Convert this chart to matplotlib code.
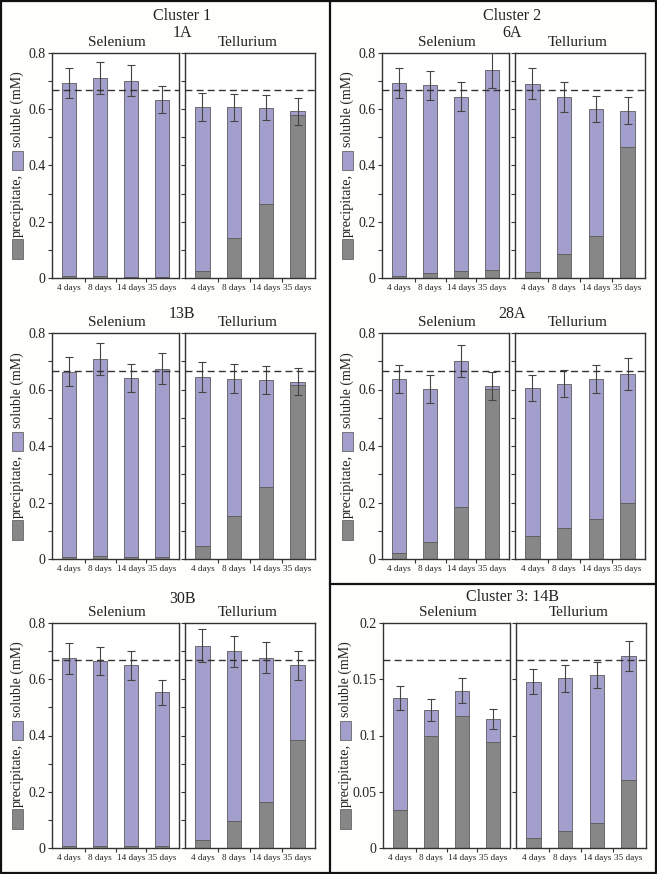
import matplotlib
matplotlib.use("Agg")
import matplotlib.pyplot as plt
from matplotlib.lines import Line2D
from matplotlib.patches import Rectangle
from matplotlib.ticker import MultipleLocator, FixedLocator, FuncFormatter

plt.rcParams['font.family'] = ['Liberation Serif', 'DejaVu Serif']

days = ["4 days", "8 days", "14 days", "35 days"]

# 1A
se_1A_prec = [0.006, 0.006, 0.005, 0.005]
se_1A_sol = [0.688, 0.706, 0.697, 0.629]
se_1A_err = [0.054, 0.057, 0.055, 0.049]
te_1A_prec = [0.025, 0.143, 0.262, 0.581]
te_1A_sol = [0.584, 0.464, 0.344, 0.012]
te_1A_err = [0.050, 0.048, 0.045, 0.048]
# 6A
se_6A_prec = [0.006, 0.017, 0.024, 0.027]
se_6A_sol = [0.686, 0.668, 0.621, 0.711]
se_6A_err = [0.053, 0.052, 0.052, 0.062]
te_6A_prec = [0.021, 0.084, 0.148, 0.465]
te_6A_sol = [0.670, 0.561, 0.454, 0.130]
te_6A_err = [0.056, 0.053, 0.046, 0.047]
# 13B
se_13B_prec = [0.008, 0.012, 0.008, 0.007]
se_13B_sol = [0.655, 0.696, 0.633, 0.667]
se_13B_err = [0.051, 0.057, 0.050, 0.054]
te_13B_prec = [0.047, 0.152, 0.255, 0.617]
te_13B_sol = [0.597, 0.486, 0.379, 0.011]
te_13B_err = [0.053, 0.052, 0.050, 0.047]
# 28A
se_28A_prec = [0.021, 0.060, 0.184, 0.602]
se_28A_sol = [0.616, 0.542, 0.518, 0.010]
se_28A_err = [0.050, 0.050, 0.057, 0.050]
te_28A_prec = [0.083, 0.111, 0.140, 0.197]
te_28A_sol = [0.522, 0.510, 0.497, 0.459]
te_28A_err = [0.046, 0.048, 0.051, 0.056]
# 30B
se_30B_prec = [0.007, 0.006, 0.007, 0.006]
se_30B_sol = [0.668, 0.660, 0.642, 0.547]
se_30B_err = [0.055, 0.050, 0.051, 0.044]
te_30B_prec = [0.028, 0.096, 0.163, 0.383]
te_30B_sol = [0.692, 0.604, 0.514, 0.266]
te_30B_err = [0.058, 0.055, 0.054, 0.052]
# 14B
se_14B_prec = [0.0341, 0.0996, 0.1173, 0.0939]
se_14B_sol = [0.0992, 0.0231, 0.0226, 0.0208]
se_14B_err = [0.0104, 0.0100, 0.0110, 0.0092]
te_14B_prec = [0.0092, 0.0151, 0.0219, 0.0604]
te_14B_sol = [0.1387, 0.1357, 0.1319, 0.1103]
te_14B_err = [0.0112, 0.0119, 0.0118, 0.0136]

ref_main = 0.667
ref_14B = 0.1667

W, H = 657, 874
fig = plt.figure(figsize=(W / 100, H / 100), dpi=100)
fig.patch.set_facecolor('#fefefc')

C_SOL = '#a39fcc'
C_PREC = '#878787'
C_EDGE = '#5a5a5a'


def fx(px):
    return px / W


def fy(py):
    return 1 - py / H


def make_ax(left, top, width, bottom):
    return fig.add_axes([fx(left), fy(bottom), width / W, (bottom - top) / H])


def draw(ax, prec, sol, err, ymax, major, minor, ref, show_labels):
    x = range(len(days))
    ax.bar(x, prec, width=0.45, color=C_PREC, edgecolor=C_EDGE, linewidth=0.6, zorder=2)
    tot = [p + s for p, s in zip(prec, sol)]
    ax.bar(x, sol, bottom=prec, width=0.45, color=C_SOL, edgecolor=C_EDGE, linewidth=0.6, zorder=2)
    ax.errorbar(x, tot, yerr=err, fmt='none', ecolor='#444444', elinewidth=0.8,
                capsize=3, capthick=0.8, zorder=3)
    ax.axhline(ref, color='#333333', linestyle=(0, (5, 3)), linewidth=1.0, zorder=4)
    ax.set_xlim(-0.55, 3.55)
    ax.set_ylim(0, ymax)
    ax.yaxis.set_major_locator(MultipleLocator(major))
    if minor:
        ax.yaxis.set_minor_locator(MultipleLocator(minor))
    ax.tick_params(axis='y', which='both', direction='out', length=3, width=0.8,
                   colors='#333333', labelsize=10, labelcolor='#222222', pad=1.5)
    if not show_labels:
        ax.tick_params(axis='y', labelleft=False)
    else:
        ax.yaxis.set_major_formatter(FuncFormatter(lambda v, p: ('%g' % round(v, 3))))
    ax.set_xticks(list(x))
    ax.set_xticklabels(days, fontsize=6.6, color='#222222')
    ax.xaxis.set_minor_locator(FixedLocator([0.5, 1.5, 2.5]))
    ax.tick_params(axis='x', which='major', length=0, pad=4)
    ax.tick_params(axis='x', which='minor', length=3, width=0.8, colors='#333333', direction='out')
    for sp in ax.spines.values():
        sp.set_color('#333333')
        sp.set_linewidth(1.0)
    ax.set_facecolor('white')


def ylabel(xc, bot):
    # legend-like label: gray box, "precipitate,", lavender box, "soluble (mM)"
    bw = 11
    fig.patches.append(Rectangle((fx(xc - bw / 2), fy(bot - 19)), bw / W, 20 / H,
                                 transform=fig.transFigure, facecolor=C_PREC,
                                 edgecolor='#666666', linewidth=0.6))
    fig.text(fx(xc + 0.5), fy(bot - 41), 'precipitate,', rotation=90, ha='center',
             va='bottom', fontsize=10.3, color='#222222')
    fig.patches.append(Rectangle((fx(xc - bw / 2), fy(bot - 108)), bw / W, 19 / H,
                                 transform=fig.transFigure, facecolor=C_SOL,
                                 edgecolor='#666666', linewidth=0.6))
    fig.text(fx(xc + 0.5), fy(bot - 131), 'soluble (mM)', rotation=90, ha='center',
             va='bottom', fontsize=10, color='#222222')


panels = [
    (52, 185, 53, 278, [('Cluster 1', 16), ('1A', 33)],
     (se_1A_prec, se_1A_sol, se_1A_err), (te_1A_prec, te_1A_sol, te_1A_err), 0.8, 0.2, 0.1, ref_main),
    (382, 515, 53, 278, [('Cluster 2', 16), ('6A', 33)],
     (se_6A_prec, se_6A_sol, se_6A_err), (te_6A_prec, te_6A_sol, te_6A_err), 0.8, 0.2, 0.1, ref_main),
    (52, 185, 333, 559, [('13B', 314)],
     (se_13B_prec, se_13B_sol, se_13B_err), (te_13B_prec, te_13B_sol, te_13B_err), 0.8, 0.2, 0.1, ref_main),
    (382, 515, 333, 559, [('28A', 314)],
     (se_28A_prec, se_28A_sol, se_28A_err), (te_28A_prec, te_28A_sol, te_28A_err), 0.8, 0.2, 0.1, ref_main),
    (52, 185, 623, 848, [('30B', 599)],
     (se_30B_prec, se_30B_sol, se_30B_err), (te_30B_prec, te_30B_sol, te_30B_err), 0.8, 0.2, 0.1, ref_main),
    (383, 516, 623, 848, [('Cluster 3: 14B', 597)],
     (se_14B_prec, se_14B_sol, se_14B_err), (te_14B_prec, te_14B_sol, te_14B_err), 0.2, 0.05, None, ref_14B),
]

for se_l, te_l, top, bot, titles, se_d, te_d, ymax, major, minor, ref in panels:
    ax1 = make_ax(se_l, top, 127, bot)
    draw(ax1, *se_d, ymax, major, minor, ref, True)
    ax2 = make_ax(te_l, top, 130, bot)
    draw(ax2, *te_d, ymax, major, minor, ref, False)
    fig.text(fx(se_l + 65), fy(top - 10), 'Selenium', ha='center', va='center',
             fontsize=11, color='#222222')
    fig.text(fx(te_l + 63), fy(top - 10), 'Tellurium', ha='center', va='center',
             fontsize=11, color='#222222')
    for t, yy in titles:
        fig.text(fx(se_l + 130), fy(yy), t, ha='center', va='center', fontsize=11.5,
                 color='#222222')
    ylabel(se_l - 35 if ymax > 0.5 else se_l - 38, bot)

# frame borders
lw = 1.6
fig.add_artist(Line2D([fx(1), fx(656), fx(656), fx(1), fx(1)],
                      [fy(1), fy(1), fy(873), fy(873), fy(1)],
                      transform=fig.transFigure, color='#111111', linewidth=lw))
fig.add_artist(Line2D([fx(330), fx(330)], [fy(0), fy(874)], transform=fig.transFigure,
                      color='#111111', linewidth=lw))
fig.add_artist(Line2D([fx(330), fx(657)], [fy(584), fy(584)], transform=fig.transFigure,
                      color='#111111', linewidth=lw))

fig.savefig('out.png', dpi=100, facecolor=fig.get_facecolor())
